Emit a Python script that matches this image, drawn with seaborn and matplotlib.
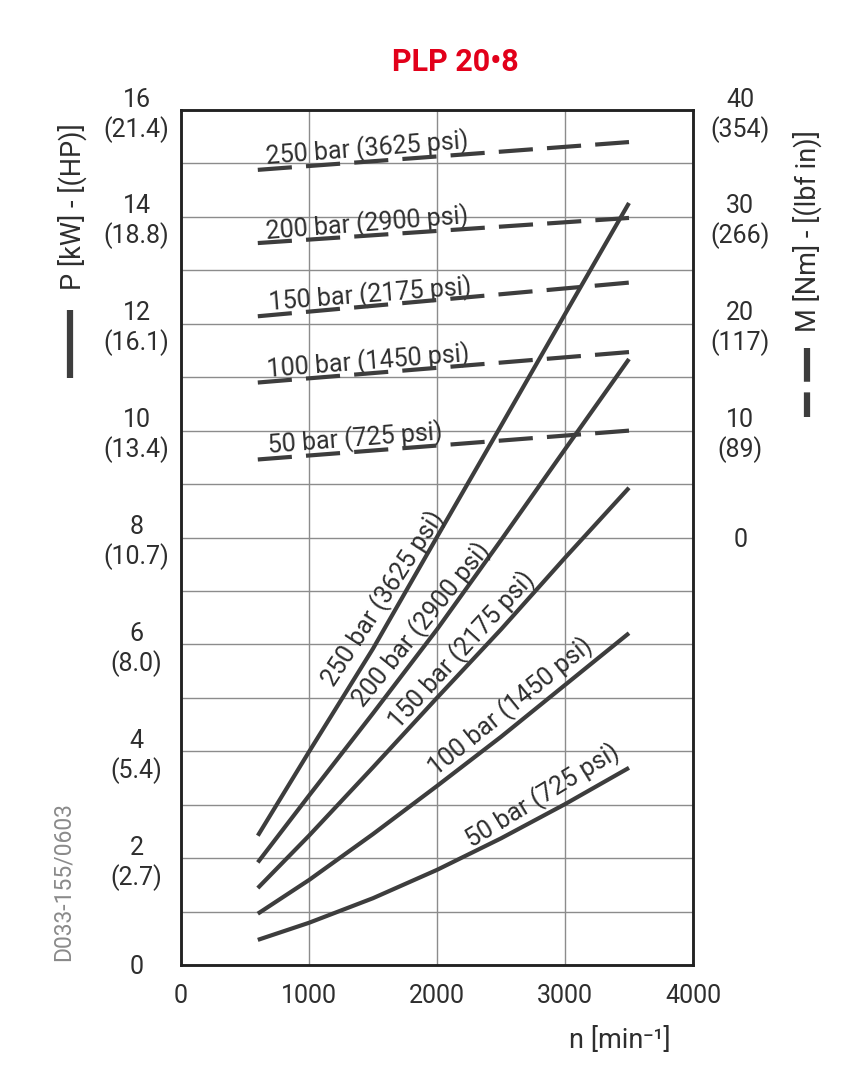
import matplotlib
matplotlib.use("Agg")
import matplotlib.pyplot as plt
from matplotlib.lines import Line2D
import seaborn as sns
import pandas as pd

# ---------------- data ----------------
pressures = ["250 bar", "200 bar", "150 bar", "100 bar", "50 bar"]
psi_labels = ["250 bar (3625 psi)", "200 bar (2900 psi)", "150 bar (2175 psi)",
              "100 bar (1450 psi)", "50 bar (725 psi)"]

# power curves P [kW] vs speed n [min-1]
speed_p = [600, 1000, 1500, 2000, 2500, 3000, 3500]
power_250 = [2.42, 3.99, 5.92, 8.01, 10.09, 12.18, 14.26]
power_200 = [1.92, 3.17, 4.71, 6.28, 7.95, 9.65, 11.34]
power_150 = [1.44, 2.42, 3.70, 5.00, 6.28, 7.62, 8.93]
power_100 = [0.96, 1.59, 2.45, 3.35, 4.27, 5.24, 6.21]
power_50 = [0.47, 0.79, 1.25, 1.78, 2.37, 3.01, 3.69]

# torque lines M [Nm] vs speed
speed_m = [600, 3500]
torque_250 = [34.4, 37.0]
torque_200 = [27.55, 29.9]
torque_150 = [20.7, 23.85]
torque_100 = [14.5, 17.35]
torque_50 = [7.3, 10.0]

left_ticks = [0, 2, 4, 6, 8, 10, 12, 14, 16]
left_labels = ["0", "2\n(2.7)", "4\n(5.4)", "6\n(8.0)", "8\n(10.7)", "10\n(13.4)",
               "12\n(16.1)", "14\n(18.8)", "16\n(21.4)"]
right_ticks = [0, 10, 20, 30, 40]
right_labels = ["0", "10\n(89)", "20\n(117)", "30\n(266)", "40\n(354)"]
x_ticks = [0, 1000, 2000, 3000, 4000]

power_sets = [power_250, power_200, power_150, power_100, power_50]
torque_sets = [torque_250, torque_200, torque_150, torque_100, torque_50]

df_p = pd.DataFrame([(p, n, v) for p, vals in zip(pressures, power_sets)
                     for n, v in zip(speed_p, vals)], columns=["pressure", "n", "P"])
df_m = pd.DataFrame([(p, n, v) for p, vals in zip(pressures, torque_sets)
                     for n, v in zip(speed_m, vals)], columns=["pressure", "n", "M"])

# ---------------- style ----------------
sns.set_style("white")
FONT = ["Roboto", "DejaVu Sans"]
plt.rcParams["font.family"] = FONT
LINE = "#3d3d3d"
TXT = "#2e2e2e"
GRID = "#8c8c8c"

fig = plt.figure(figsize=(8.49, 10.8), dpi=100)
ax = fig.add_axes([181 / 849, 1 - 965 / 1080, (693 - 181) / 849, (965 - 110) / 1080])
ax2 = ax.twinx()

palette = {p: LINE for p in pressures}
sns.lineplot(data=df_p, x="n", y="P", hue="pressure", palette=palette, ax=ax,
             legend=False, lw=3.0, solid_capstyle="butt", estimator=None)
sns.lineplot(data=df_m, x="n", y="M", hue="pressure", palette=palette, ax=ax2,
             legend=False, lw=3.0, linestyle=(0, (8.2, 3.4)), dash_capstyle="butt",
             estimator=None)

ax.set_xlim(0, 4000)
ax.set_ylim(0, 16)
ax2.set_ylim(-40, 40)

ax.set_xticks(x_ticks, [str(t) for t in x_ticks])
ax.set_yticks(left_ticks, left_labels, ha="center", multialignment="center")
ax.set_yticks(range(1, 16, 2), minor=True)
ax2.set_yticks(right_ticks, right_labels, ha="center", multialignment="center")

ax.grid(True, which="both", color=GRID, lw=1.0)
ax2.grid(False)
ax.set_axisbelow(True)

ax.tick_params(axis="y", which="both", length=0, pad=32, labelsize=18, labelcolor=TXT)
ax.tick_params(axis="x", which="both", length=0, pad=14, labelsize=18, labelcolor=TXT)
ax2.tick_params(axis="y", length=0, pad=34, labelsize=18, labelcolor=TXT)
ax.set_xlabel("")
ax.set_ylabel("")
ax2.set_ylabel("")

for a in (ax, ax2):
    for s in a.spines.values():
        s.set_visible(True)
        s.set_color("#222222")
        s.set_linewidth(1.8)

# curve labels on the power lines
solid_pos = [(1578, 6.85, 57), (1875, 6.37, 51), (2195, 5.90, 47.5),
             (2570, 4.83, 39), (2828, 3.16, 31.5)]
for lab, (xx, yy, rot) in zip(psi_labels, solid_pos):
    ax.text(xx, yy, lab, rotation=rot, ha="center", va="center", fontsize=18,
            color=TXT, rotation_mode="anchor")

# labels on the torque lines
dash_pos = [(1453, 15.27), (1453, 13.88), (1477, 12.55), (1460, 11.30), (1360, 9.84)]
for lab, (xx, yy) in zip(psi_labels, dash_pos):
    ax.text(xx, yy, lab, rotation=4.5, ha="center", va="center", fontsize=18,
            color=TXT, rotation_mode="anchor")

# titles & axis labels
fig.text(455 / 849, 1 - 62 / 1080, "PLP 20•8", color="#e2001a", fontsize=22,
         fontweight="bold", ha="center", va="center")
fig.text(620 / 849, 1 - 1040 / 1080, "n [min⁻¹]", fontsize=19.5, color=TXT,
         ha="center", va="center")
fig.text(72 / 849, 1 - 207 / 1080, "P [kW] - [(HP)]", rotation=90, fontsize=19.5,
         color=TXT, ha="center", va="center")
fig.text(807 / 849, 1 - 231 / 1080, "M [Nm] - [(lbf in)]", rotation=90, fontsize=19.5,
         color=TXT, ha="center", va="center")
fig.text(63 / 849, 1 - 882 / 1080, "D033-155/0603", rotation=90, fontsize=16.5,
         color="#8a8a8a", ha="center", va="center")

# legend glyphs beside the axis titles
fig.add_artist(Line2D([70 / 849, 70 / 849], [1 - 378 / 1080, 1 - 310 / 1080],
                      transform=fig.transFigure, color=LINE, lw=4.5,
                      solid_capstyle="butt"))
fig.add_artist(Line2D([807 / 849, 807 / 849], [1 - 348 / 1080, 1 - 417 / 1080],
                      transform=fig.transFigure, color=LINE, lw=4.5,
                      linestyle=(0, (5.4, 1.7)), dash_capstyle="butt"))

fig.savefig("out.png", dpi=100)
